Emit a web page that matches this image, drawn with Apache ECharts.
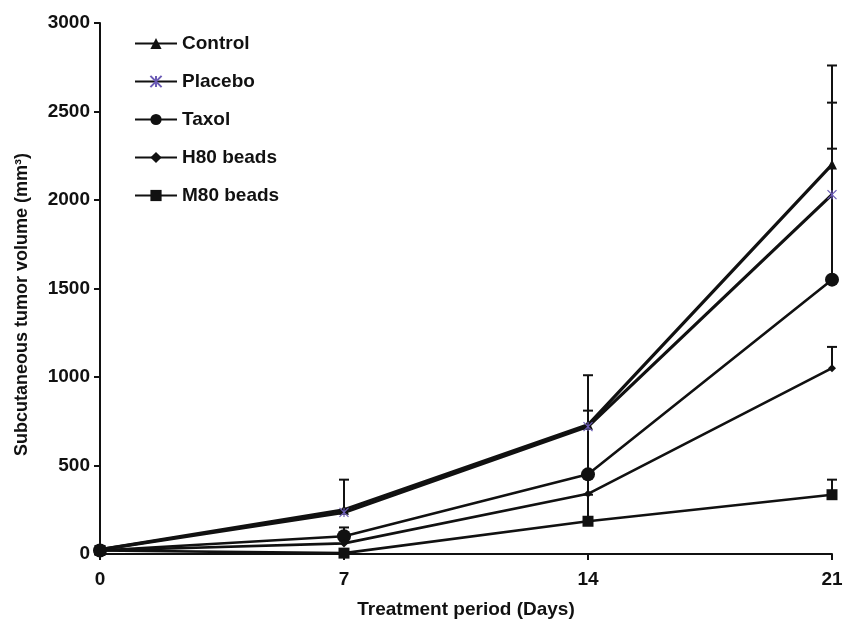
<!DOCTYPE html>
<html>
<head>
<meta charset="utf-8">
<script src="https://cdn.jsdelivr.net/npm/echarts@6/dist/echarts.min.js"></script>
<style>
  html, body { margin: 0; padding: 0; background: #fff; }
  #chart { width: 843px; height: 623px; }
</style>
</head>
<body>
<div id="chart"></div>
<script>
// Treatment days (x axis)
const days = [0, 7, 14, 21];

// Mean subcutaneous tumor volume (mm³) per group
const controlMean = [25, 250, 730, 2200];
const placeboMean = [25, 235, 720, 2030];
const taxolMean   = [20, 100, 450, 1550];
const h80Mean     = [20, 60, 340, 1050];
const m80Mean     = [20, 5, 185, 335];

// Upper ends of the error bars (null = no bar drawn)
const controlUpper = [null, 420, 810, 2760];
const placeboUpper = [null, null, null, 2550];
const taxolUpper   = [null, 150, 1010, 2290];
const h80Upper     = [null, null, 450, 1170];
const m80Upper     = [null, null, 335, 420];

// Axis ticks
const xTicks = [0, 7, 14, 21];
const yTicks = [0, 500, 1000, 1500, 2000, 2500, 3000];

const seriesNames = ['Control', 'Placebo', 'Taxol', 'H80 beads', 'M80 beads'];

const FONT = '"Liberation Sans", Arial, sans-serif';
const INK = '#111';

function pairs(mean) {
  return days.map((d, i) => [d, mean[i]]);
}

function errorData(mean, upper) {
  const out = [];
  days.forEach((d, i) => {
    if (upper[i] != null) out.push([d, mean[i], upper[i]]);
  });
  return out;
}

// Vertical error bar with a cap at its upper end
function renderErrorBar(params, api) {
  const base = api.coord([api.value(0), api.value(1)]);
  const top = api.coord([api.value(0), api.value(2)]);
  const capHalf = 5;
  const style = { stroke: INK, lineWidth: 2, fill: null };
  return {
    type: 'group',
    children: [
      { type: 'line', shape: { x1: base[0], y1: base[1], x2: top[0], y2: top[1] }, style: style },
      { type: 'line', shape: { x1: top[0] - capHalf, y1: top[1], x2: top[0] + capHalf, y2: top[1] }, style: style }
    ]
  };
}

const allErrors = []
  .concat(errorData(controlMean, controlUpper))
  .concat(errorData(placeboMean, placeboUpper))
  .concat(errorData(taxolMean, taxolUpper))
  .concat(errorData(h80Mean, h80Upper))
  .concat(errorData(m80Mean, m80Upper));

function lineSeries(name, mean, symbol, size, width, markColor) {
  const c = markColor || INK;
  return {
    name: name,
    type: 'line',
    data: pairs(mean),
    symbol: symbol,
    symbolSize: size,
    showAllSymbol: true,
    lineStyle: { color: INK, width: width },
    itemStyle: { color: c, borderColor: c, borderWidth: markColor ? 1.2 : 0 },
    emphasis: { disabled: true },
    z: 3
  };
}

const chart = echarts.init(document.getElementById('chart'), null, { renderer: 'canvas' });

chart.setOption({
  animation: false,
  backgroundColor: '#fff',
  grid: { left: 100, right: 11, top: 23, bottom: 69, containLabel: false, outerBoundsMode: 'none' },
  legend: {
    data: seriesNames,
    orient: 'vertical',
    left: 129,
    top: 29,
    itemWidth: 42,
    itemHeight: 14,
    itemGap: 19,
    textStyle: { fontFamily: FONT, fontWeight: 'bold', fontSize: 19, lineHeight: 19, color: INK },
    inactiveColor: '#999'
  },
  xAxis: {
    type: 'value',
    min: 0,
    max: 21,
    interval: 7,
    name: 'Treatment period (Days)',
    nameLocation: 'middle',
    nameGap: 46,
    nameTextStyle: { fontFamily: FONT, fontWeight: 'bold', fontSize: 19, color: INK },
    axisLine: { lineStyle: { color: INK, width: 2 } },
    axisTick: { show: true, inside: false, length: 6, lineStyle: { color: INK, width: 2 } },
    axisLabel: {
      fontFamily: FONT, fontWeight: 'bold', fontSize: 19, color: INK, margin: 16,
      formatter: v => (xTicks.indexOf(v) >= 0 ? String(v) : '')
    },
    splitLine: { show: false }
  },
  yAxis: {
    type: 'value',
    min: 0,
    max: 3000,
    interval: 500,
    name: 'Subcutaneous tumor volume (mm³)',
    nameLocation: 'middle',
    nameGap: 69,
    nameTextStyle: {
      fontFamily: FONT, fontWeight: 'bold', fontSize: 18, color: INK,
      padding: [0, 32, 0, 0]
    },
    axisLine: { show: true, lineStyle: { color: INK, width: 2 } },
    axisTick: { show: true, inside: false, length: 6, lineStyle: { color: INK, width: 2 } },
    axisLabel: {
      fontFamily: FONT, fontWeight: 'bold', fontSize: 19, color: INK, margin: 10,
      formatter: v => (yTicks.indexOf(v) >= 0 ? String(v) : '')
    },
    splitLine: { show: false }
  },
  series: [
    {
      name: 'errors',
      type: 'custom',
      renderItem: renderErrorBar,
      data: allErrors,
      encode: { x: 0, y: [1, 2] },
      z: 2,
      silent: true
    },
    lineSeries('Control', controlMean, 'triangle', 10, 3.2),
    lineSeries('Placebo', placeboMean, 'path://M0,0L10,10M10,0L0,10M5,0L5,10', 9, 3.2, '#6b5bb5'),
    lineSeries('Taxol', taxolMean, 'circle', 14, 2.6),
    lineSeries('H80 beads', h80Mean, 'diamond', 8, 2.6),
    lineSeries('M80 beads', m80Mean, 'rect', 11, 2.6)
  ]
});
</script>
</body>
</html>
